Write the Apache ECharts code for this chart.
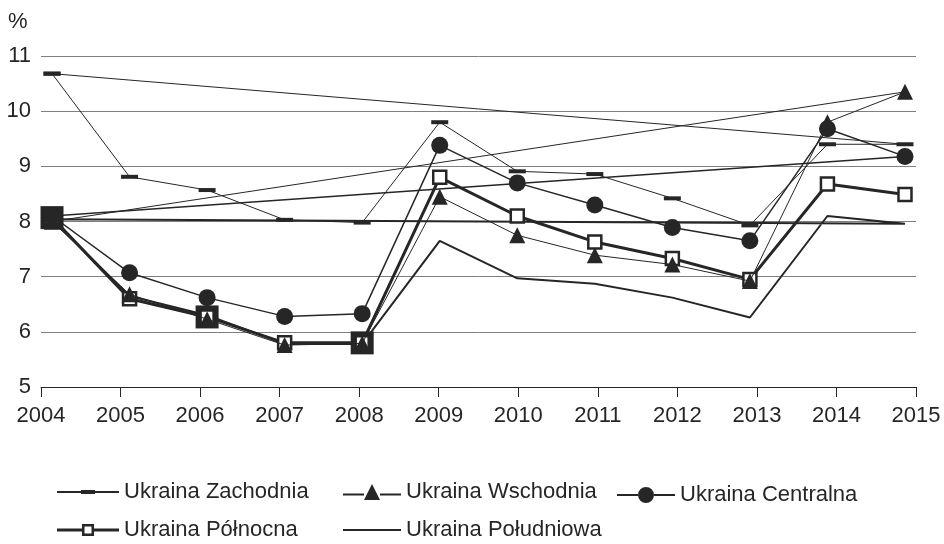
<!DOCTYPE html>
<html>
<head>
<meta charset="utf-8">
<script src="https://cdn.jsdelivr.net/npm/echarts@6/dist/echarts.min.js"></script>
<style>
html,body{margin:0;padding:0;background:#fff;}
#chart{width:944px;height:544px;}
</style>
</head>
<body>
<div id="chart"></div>
<script>
const years = [2004, 2005, 2006, 2007, 2008, 2009, 2010, 2011, 2012, 2013, 2014, 2015];
const yTicks = [5, 6, 7, 8, 9, 10, 11];
const zachodnia  = [10.68, 8.81, 8.57, 8.03, 7.98, 9.80, 8.91, 8.86, 8.42, 7.93, 9.40, 9.40];
const wschodnia  = [8.00, 6.68, 6.23, 5.76, 5.79, 8.45, 7.75, 7.39, 7.22, 6.92, 9.80, 10.35];
const centralna  = [8.10, 7.07, 6.62, 6.28, 6.33, 9.38, 8.70, 8.30, 7.89, 7.65, 9.68, 9.18];
const polnocna   = [8.07, 6.60, 6.27, 5.80, 5.80, 8.80, 8.10, 7.63, 7.33, 6.95, 8.68, 8.49];
const poludniowa = [8.04, 6.65, 6.30, 5.78, 5.78, 7.65, 6.97, 6.87, 6.62, 6.26, 8.10, 7.96];
const names = ['Ukraina Zachodnia', 'Ukraina Wschodnia', 'Ukraina Centralna', 'Ukraina Północna', 'Ukraina Południowa'];
const bigSquareYears = [2004, 2006, 2008];

const INK = '#262626';
const FONT = '"Liberation Sans", Arial, sans-serif';

const icons = [
  'path://M0,1 h24 v2 h-24 Z M24,0 h14 v4 h-14 Z M38,1 h24 v2 h-24 Z',
  'path://M0,9.5 h21 v2 h-21 Z M21,16 L29,0 L37,16 Z M37,9.5 h21 v2 h-21 Z',
  'path://M0,7 h21 v2 h-21 Z M21,8 A8,8 0 1,0 37,8 A8,8 0 1,0 21,8 Z M37,7 h21 v2 h-21 Z',
  'path://M0,4.5 h25 v3 h-25 Z M25,0 h12 v12 h-12 Z M27.5,2.5 v7 h7 v-7 Z M37,4.5 h25 v3 h-25 Z',
  'path://M0,0 h58 v2 h-58 Z'
];

function pts(arr, close) {
  const d = years.map((y, i) => [y, arr[i]]);
  if (close) d.push([years[0], arr[0]]);
  return d;
}

const chart = echarts.init(document.getElementById('chart'), null, {renderer: 'canvas'});

function legendAt(i, left, top, w, h) {
  return {
    data: [{name: names[i], icon: icons[i]}], left: left, top: top, itemWidth: w, itemHeight: h,
    padding: 0, selectedMode: false,
    itemStyle: {color: INK, borderWidth: 0, opacity: 1},
    textStyle: {fontFamily: FONT, fontSize: 22, color: INK}
  };
}

const option = {
  animation: false,
  backgroundColor: '#ffffff',
  textStyle: {fontFamily: FONT},
  grid: {left: 41, right: 28, top: 56, bottom: 157},
  graphic: [{type: 'text', left: 8, top: 11, style: {text: '%', fontFamily: FONT, fontSize: 22, fill: INK}}],
  legend: [
    legendAt(0, 57, 481, 62, 4),
    legendAt(1, 343, 481, 58, 16),
    legendAt(2, 617, 484, 58, 16),
    legendAt(3, 57, 519, 62, 12),
    legendAt(4, 343, 519, 58, 2)
  ],
  xAxis: [
    {
      type: 'value', min: 2004, max: 2015, interval: 1,
      axisLine: {show: true, lineStyle: {color: INK, width: 1}},
      axisTick: {show: true, length: 10, lineStyle: {color: INK}},
      axisLabel: {fontFamily: FONT, fontSize: 22, color: INK, margin: 18, formatter: v => String(v)},
      splitLine: {show: false}
    },
    {
      type: 'value', min: 2003.858, max: 2015.142, show: false,
      splitLine: {show: false}
    }
  ],
  yAxis: {
    type: 'value', min: yTicks[0], max: yTicks[yTicks.length - 1], interval: 1,
    axisLine: {show: false}, axisTick: {show: false},
    axisLabel: {fontFamily: FONT, fontSize: 22, color: INK, margin: 10},
    splitLine: {show: true, lineStyle: {color: '#7f7f7f', width: 1}}
  },
  series: [
    {
      name: 'big', type: 'scatter', xAxisIndex: 1, z: 1,
      symbol: 'rect', symbolSize: 23, itemStyle: {color: INK, opacity: 1},
      data: bigSquareYears.map(y => [y, polnocna[years.indexOf(y)]]),
      silent: true
    },
    {
      name: names[4], type: 'line', xAxisIndex: 1, z: 2,
      data: pts(poludniowa, true), showSymbol: false, symbol: 'none',
      lineStyle: {color: INK, width: 2}, itemStyle: {color: INK}
    },
    {
      name: names[0], type: 'line', xAxisIndex: 1, z: 3,
      data: pts(zachodnia, true), symbol: 'rect', symbolSize: [17, 4],
      lineStyle: {color: INK, width: 1}, itemStyle: {color: INK}
    },
    {
      name: names[3], type: 'line', xAxisIndex: 1, z: 4,
      data: pts(polnocna, false), symbol: 'rect', symbolSize: 13,
      lineStyle: {color: INK, width: 3},
      itemStyle: {color: '#ffffff', borderColor: INK, borderWidth: 2.5}
    },
    {
      name: names[1], type: 'line', xAxisIndex: 1, z: 5,
      data: pts(wschodnia, true), symbol: 'triangle', symbolSize: 16,
      lineStyle: {color: INK, width: 1}, itemStyle: {color: INK}
    },
    {
      name: names[2], type: 'line', xAxisIndex: 1, z: 6,
      data: pts(centralna, true), symbol: 'circle', symbolSize: 17,
      lineStyle: {color: INK, width: 1.5}, itemStyle: {color: INK}
    }
  ]
};
chart.setOption(option);
</script>
</body>
</html>
